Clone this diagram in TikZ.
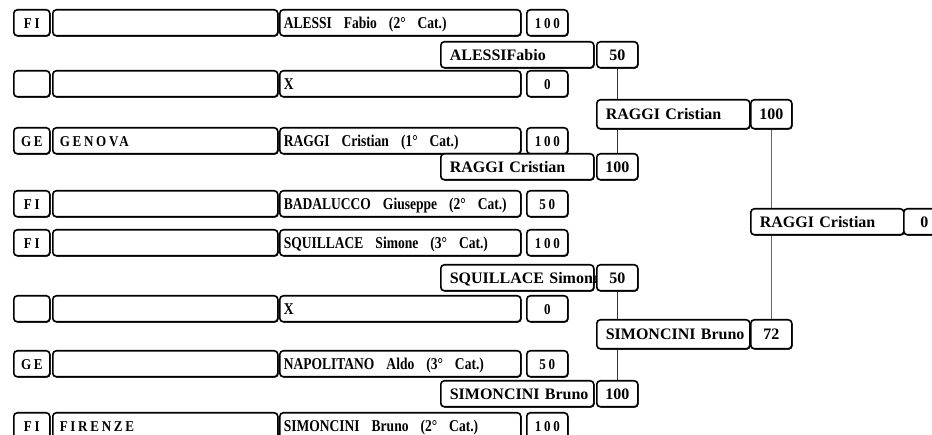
\documentclass[tikz,border=0pt]{standalone}
\usepackage{fontspec}
\setmainfont{Liberation Serif}
\newfontfamily\rowfont[FakeStretch=0.82]{Liberation Serif}
\newfontfamily\codefont[FakeStretch=0.87, LetterSpace=18]{Liberation Serif}
\newcommand\widegap{\spaceskip=12pt plus 2pt\relax}
\usepackage{tikz}
\usetikzlibrary{shadows}
\tikzset{
  box/.style={rectangle, draw=black, fill=white, line width=1.6pt,
    rounded corners=3.5pt, inner ysep=0pt, anchor=north west,
    minimum height=26pt, text height=10.5pt, text depth=0pt,
    drop shadow={shadow xshift=0.8pt, shadow yshift=-0.8pt, fill=black, opacity=1}},
  codebox/.style={box, minimum width=36pt, inner xsep=0pt,
    font=\codefont\bfseries\fontsize{15}{15}\selectfont},
  clubbox/.style={box, text width=211pt, inner xsep=7pt, align=left,
    font=\codefont\bfseries\fontsize{15}{15}\selectfont},
  namebox/.style={box, text width=233pt, inner xsep=4pt, align=left,
    font=\rowfont\bfseries\fontsize{16.5}{16.5}\selectfont,
    execute at begin node=\widegap},
  ptsbox/.style={box, minimum width=41pt, inner xsep=0pt,
    font=\codefont\bfseries\fontsize{15}{15}\selectfont},
  winbox/.style={box, text width=135pt, inner xsep=9pt, align=left,
    font=\bfseries\fontsize{16}{16}\selectfont},
  winpts/.style={box, minimum width=41pt, inner xsep=0pt,
    font=\bfseries\fontsize{16}{16}\selectfont},
  link/.style={line width=1.3pt, color=black!80},
  graylink/.style={line width=1.3pt, color=black!60}
}

\begin{document}
\begin{tikzpicture}[x=1pt, y=-1pt]
  \useasboundingbox (0,0) rectangle (932,435);
  \clip (0,0) rectangle (932,435);
  % Entrants
  \node[codebox] (code1) at (13,9) {FI};
  \node[clubbox] (club1) at (52,9) {};
  \node[namebox] (name1) at (279,9) {ALESSI Fabio (2° Cat.)};
  \node[ptsbox] (pts1) at (526,9) {100};

  \node[codebox] (code2) at (13,70) {};
  \node[clubbox] (club2) at (52,70) {};
  \node[namebox] (name2) at (279,70) {X};
  \node[ptsbox] (pts2) at (526,70) {0};

  \node[codebox] (code3) at (13,127) {GE};
  \node[clubbox] (club3) at (52,127) {GENOVA};
  \node[namebox] (name3) at (279,127) {RAGGI Cristian (1° Cat.)};
  \node[ptsbox] (pts3) at (526,127) {100};

  \node[codebox] (code4) at (13,190) {FI};
  \node[clubbox] (club4) at (52,190) {};
  \node[namebox] (name4) at (279,190) {\mbox{BADALUCCO Giuseppe (2° Cat.)}};
  \node[ptsbox] (pts4) at (526,190) {50};

  \node[codebox] (code5) at (13,229) {FI};
  \node[clubbox] (club5) at (52,229) {};
  \node[namebox] (name5) at (279,229) {SQUILLACE Simone (3° Cat.)};
  \node[ptsbox] (pts5) at (526,229) {100};

  \node[codebox] (code6) at (13,295) {};
  \node[clubbox] (club6) at (52,295) {};
  \node[namebox] (name6) at (279,295) {X};
  \node[ptsbox] (pts6) at (526,295) {0};

  \node[codebox] (code7) at (13,350) {GE};
  \node[clubbox] (club7) at (52,350) {};
  \node[namebox] (name7) at (279,350) {NAPOLITANO Aldo (3° Cat.)};
  \node[ptsbox] (pts7) at (526,350) {50};

  \node[codebox] (code8) at (13,412) {FI};
  \node[clubbox] (club8) at (52,412) {FIRENZE};
  \node[namebox] (name8) at (279,412) {SIMONCINI Bruno (2° Cat.)};
  \node[ptsbox] (pts8) at (526,412) {100};

  % First round
  \node[winbox] (win1a) at (440,41) {ALESSIFabio};
  \node[winpts] (pts1a) at (596,41) {50};
  \node[winbox] (win1b) at (440,153) {RAGGI Cristian};
  \node[winpts] (pts1b) at (596,153) {100};
  \node[winbox] (win1c) at (440,264) {\mbox{SQUILLACE Simone}};
  \node[winpts] (pts1c) at (596,264) {50};
  \node[winbox] (win1d) at (440,380) {\mbox{SIMONCINI Bruno}};
  \node[winpts] (pts1d) at (596,380) {100};

  % Second round
  \node[winbox, minimum height=29pt] (win2a) at (596,99) {RAGGI Cristian};
  \node[winpts, minimum height=29pt] (pts2a) at (750,99) {100};
  \node[winbox, minimum height=29pt] (win2b) at (596,319) {\mbox{SIMONCINI Bruno}};
  \node[winpts, minimum height=29pt] (pts2b) at (750,319) {72};

  % Final
  \node[winbox] (win3) at (750,208) {RAGGI Cristian};
  \node[winpts] (pts3) at (903,208) {0};

  % Links
  \draw[link] (pts1a.south) -- (pts1a.south |- win2a.north);
  \draw[link] (pts1a.south |- win2a.south) -- (pts1b.north);
  \draw[link] (pts1c.south) -- (pts1c.south |- win2b.north);
  \draw[link] (pts1c.south |- win2b.south) -- (pts1d.north);
  \draw[graylink] (pts2a.south) -- (pts2a.south |- win3.north);
  \draw[graylink] (pts2a.south |- win3.south) -- (pts2b.north);
\end{tikzpicture}
\end{document}
